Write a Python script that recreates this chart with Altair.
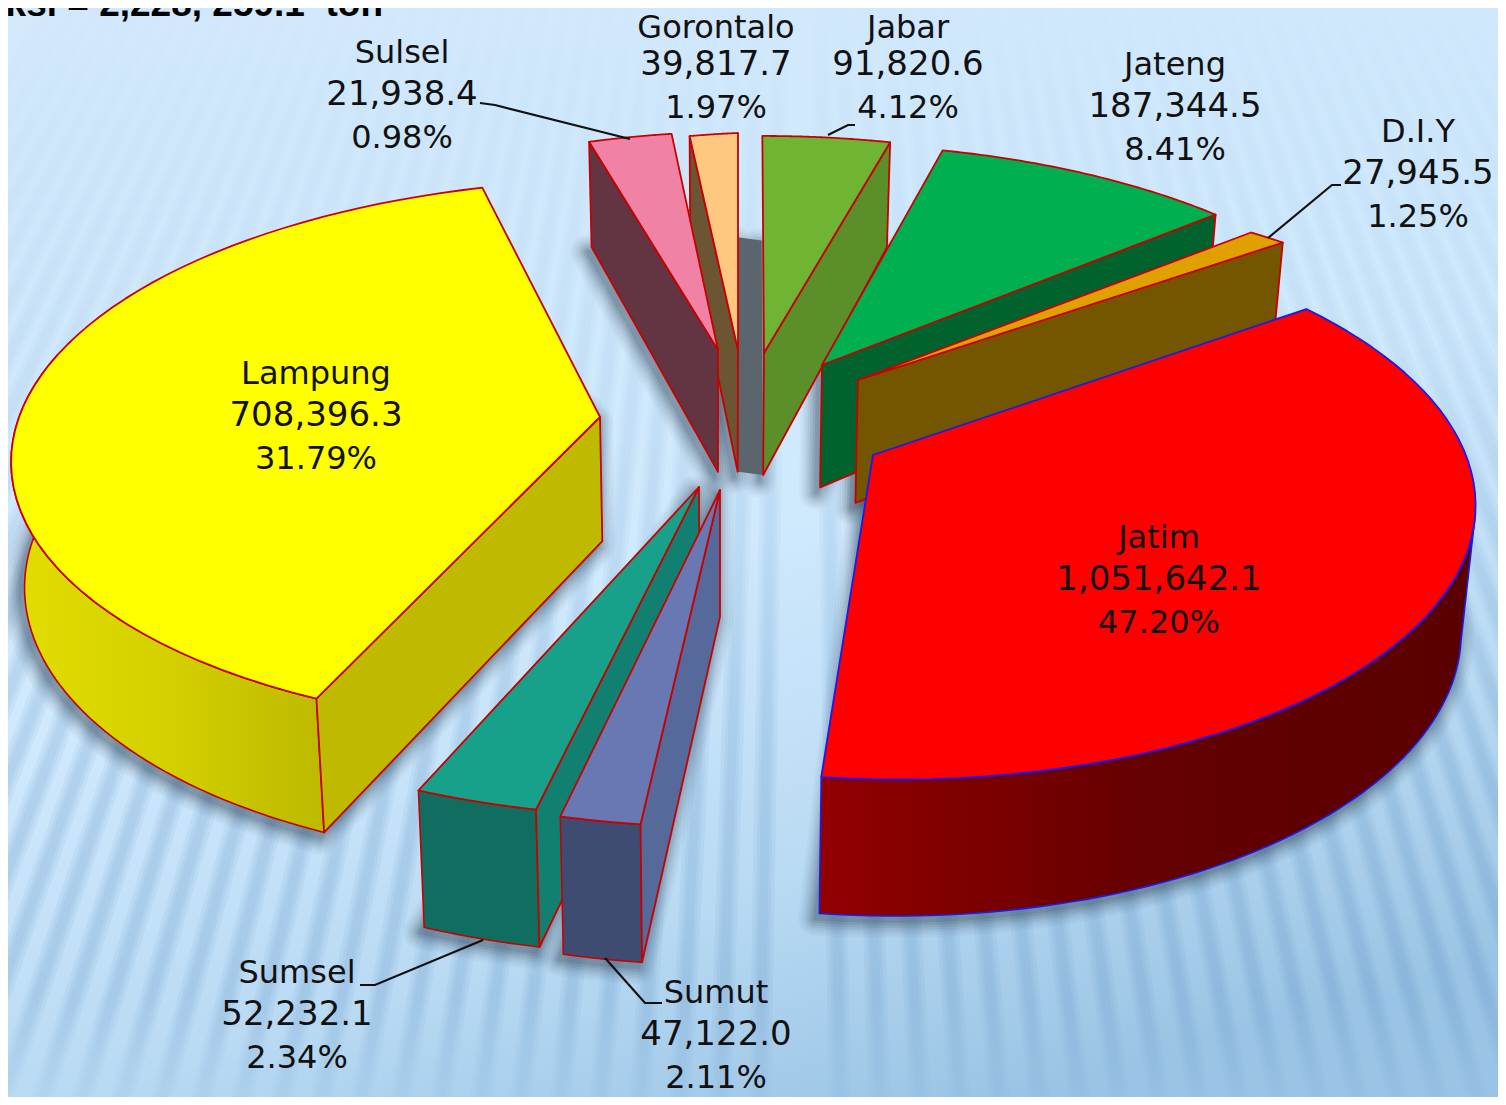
import math
import numpy as np
import pandas as pd
import altair as alt

# ---- chart values -------------------------------------------------------
names = ["Gorontalo", "Sulsel", "Jabar", "Jateng", "D.I.Y", "Jatim", "Lampung", "Sumsel", "Sumut"]
values = [39817.7, 21938.4, 91820.6, 187344.5, 27945.5, 1051642.1, 708396.3, 52232.1, 47122.0]
shares = [1.97, 0.98, 4.12, 8.41, 1.25, 47.20, 31.79, 2.34, 2.11]
title_text = "Produksi = 2,228, 259.1\u00a0\u00a0ton"

# ---- look of the perspective pie (view parameters, one entry per slice) ---
W, H = 1490, 1089
apex_x = [738, 718, 764, 822, 858, 873, 600, 699, 720]
apex_y = [350, 350, 353, 365, 380, 455, 417, 487, 490]
ang1 = [354.1, 344.2, -0.2, 14.4, 50.6, 53.6, 204.7, 193.0, 186.2]
ang2 = [360.0, 354.4, 15.3, 50.1, 54.7, 184.2, 346.8, 202.9, 192.6]
rad1 = [0.99, 0.99, 1.0, 1.015, 1.0, 1.05, 0.935, 0.98, 0.99]
rad2 = [1.0, 1.0, 1.0, 1.01, 1.012, 0.95, 1.08, 0.99, 0.99]
tops = ["#ffc880", "#ef82a5", "#70b433", "#00b050", "#e0a000", "#ff0000", "#ffff00", "#17a08a", "#6878b3"]
side = ["#6b5533", "#633542", "#5a8f2a", "#00622c", "#745500", "#7a0000", "#bfba00", "#128070", "#55699a"]
wall_edge = [1, 1, 2, 2, 2, 0, 1, 1, 1]
outer = {"Jatim": ["#920000", "#640000", "#5a0000"], "Lampung": ["#e2dd00", "#d4d000", "#bdb900"],
         "Sumsel": ["#0f6e60", "#0f6e60"], "Sumut": ["#3f4c72", "#3f4c72"]}
label_x = [716, 402, 908, 1175, 1418, 1159, 316, 297, 716]
label_y = [23, 53, 23, 65, 132, 538, 374, 973, 993]
leader_x = [[480, 495, 630], [855, 848, 828], [1341, 1332, 1268], [360, 375, 483], [662, 645, 605]]
leader_y = [[103, 105, 139], [125, 125, 135], [185, 185, 238], [985, 985, 940], [1003, 1003, 958]]

RX, RY, P = 580.0, 265.0, 0.221


def pt(i, phi, s):
    a = math.radians(phi)
    w = 1 + P * math.cos(a)
    return (apex_x[i] + s * RX * math.sin(a) / w, apex_y[i] - s * RY * math.cos(a) / w)


def arc(i, a0=None, a1=None, n=60):
    a0 = ang1[i] if a0 is None else a0
    a1 = ang2[i] if a1 is None else a1
    out = []
    for t in np.linspace(0, 1, n):
        phi = a0 + (a1 - a0) * t
        f = (phi - ang1[i]) / (ang2[i] - ang1[i])
        out.append(pt(i, phi, rad1[i] + (rad2[i] - rad1[i]) * f))
    return out


def down(p):
    x, y = p
    t = 122 + 0.08 * (y - 353) if y < 353 else 122 + 0.034 * (y - 353)
    return (x + (720 - x) * 0.019, y + t)


X = alt.X("x:Q", axis=None, scale=alt.Scale(domain=[8, 8 + W], nice=False, zero=False))
Y = alt.Y("y:Q", axis=None, scale=alt.Scale(domain=[8 + H, 8], nice=False, zero=False))


def frame(points):
    return pd.DataFrame({"x": [p[0] for p in points], "y": [p[1] for p in points], "i": range(len(points))})


def poly(points, fill, stroke=None, sw=0.0, opacity=1.0):
    kw = dict(interpolate="linear-closed", fill=fill, opacity=opacity)
    kw["stroke"] = stroke if stroke else "transparent"
    kw["strokeWidth"] = sw
    kw["strokeJoin"] = "round"
    return alt.Chart(frame(points)).mark_line(clip=True, **kw).encode(x=X, y=Y, order="i:Q")


def hgrad(cols):
    return alt.Gradient(gradient="linear", x1=0, x2=1, y1=0, y2=0,
                        stops=[alt.GradientStop(color=c, offset=k / (len(cols) - 1)) for k, c in enumerate(cols)])


layers = []

# background
bg = alt.Gradient(gradient="linear", x1=0.25, y1=0, x2=0.65, y2=1, stops=[
    alt.GradientStop(color="#d3e9fc", offset=0), alt.GradientStop(color="#cfe9fd", offset=0.5),
    alt.GradientStop(color="#b9daf3", offset=0.78), alt.GradientStop(color="#9ac4e5", offset=1)])
layers.append(poly([(0, 0), (1506, 0), (1506, 1105), (0, 1105)], bg))

# fan of soft stripes
for k, bx in enumerate(np.arange(-600, 2300, 40.0)):
    vx, vy = 800.0, -1250.0
    tx = vx + (bx - vx) * (vy - 0) / (vy - 1105)
    grad = alt.Gradient(gradient="linear", x1=0, x2=0, y1=0, y2=1, stops=[
        alt.GradientStop(color="rgba(90,140,190,0.01)", offset=0),
        alt.GradientStop(color="rgba(90,140,190,0.10)", offset=0.4),
        alt.GradientStop(color="rgba(90,140,190,0.22)", offset=0.7),
        alt.GradientStop(color="rgba(90,140,190,0.22)", offset=0.9),
        alt.GradientStop(color="rgba(90,140,190,0.06)", offset=1)])
    for sw in (22, 15, 9):
        layers.append(alt.Chart(frame([(tx, 0), (bx, 1105)])).mark_line(stroke=grad, strokeWidth=sw, opacity=0.4, clip=True)
                      .encode(x=X, y=Y, order="i:Q"))

# soft drop shadow under every slice
for i in range(len(names)):
    a = arc(i)
    top = [(apex_x[i], apex_y[i])] + a
    bot = [down(p) for p in top]
    pts = bot + [(apex_x[i], apex_y[i])]
    shifted = [(x - 4, y + 5) for x, y in pts]
    for sw, op in ((34, 0.03), (29, 0.04), (24, 0.05), (19, 0.07), (14, 0.09), (9, 0.11), (4, 0.13)):
        layers.append(poly(shifted, "#25384a", "#25384a", sw, op))

# floor seen between Gorontalo and Jabar
g, j = names.index("Gorontalo"), names.index("Jabar")
layers.append(poly([down(arc(g)[-1]), down(arc(j)[0]), down((apex_x[j], apex_y[j])), down((apex_x[g], apex_y[g]))], "#5a656d"))

EDGE = "#c80000"
for i, nm in enumerate(names):
    a = arc(i)
    apex = (apex_x[i], apex_y[i])
    edge = "#1a1aee" if nm == "Jatim" else EDGE
    # outer wall
    if nm in outer:
        start = 102.0 if nm == "Jatim" else ang1[i]
        end = 284.0 if nm == "Lampung" else ang2[i]
        o = arc(i, start, end)
        layers.append(poly(o + [down(p) for p in reversed(o)], hgrad(outer[nm]), edge, 1.6))
    # straight wall
    if wall_edge[i]:
        e = a[0] if wall_edge[i] == 1 else a[-1]
        layers.append(poly([apex, e, down(e), down(apex)], side[i], edge, 1.8))
    # top
    layers.append(poly([apex] + a, tops[i], edge, 1.8))

# leader lines
for lx, ly in zip(leader_x, leader_y):
    layers.append(alt.Chart(frame(list(zip(lx, ly)))).mark_line(color="#111111", strokeWidth=2.2).encode(x=X, y=Y, order="i:Q"))

# labels built from the value arrays
rows = []
for i, nm in enumerate(names):
    for k, t in enumerate([nm, f"{values[i]:,.1f}", f"{shares[i]:.2f}%"]):
        yy = label_y[i] + k * 42.4
        rows.append({"x": label_x[i], "y": max(yy, 28), "t": t, "line": k})
labels = pd.DataFrame(rows)
layers.append(alt.Chart(labels[labels.line != 1]).mark_text(font="DejaVu Sans", fontSize=32, color="#111111", align="center", baseline="middle")
              .encode(x=X, y=Y, text="t:N"))
layers.append(alt.Chart(labels[labels.line == 1]).mark_text(font="DejaVu Sans", fontSize=34, color="#111111", align="center", baseline="middle")
              .encode(x=X, y=Y, text="t:N"))
layers.append(alt.Chart(pd.DataFrame({"x": [383], "y": [16], "t": [title_text]}))
              .mark_text(font="Liberation Sans", fontWeight="bold", fontSize=37, color="#000000", align="right", baseline="alphabetic")
              .encode(x=X, y=Y, text="t:N"))

chart = alt.layer(*layers).properties(width=W, height=H, padding=0, autosize=alt.AutoSizeParams(type="none")).configure_view(stroke=None)
chart.save("out.html", embed_options={"renderer": "svg", "actions": False})
